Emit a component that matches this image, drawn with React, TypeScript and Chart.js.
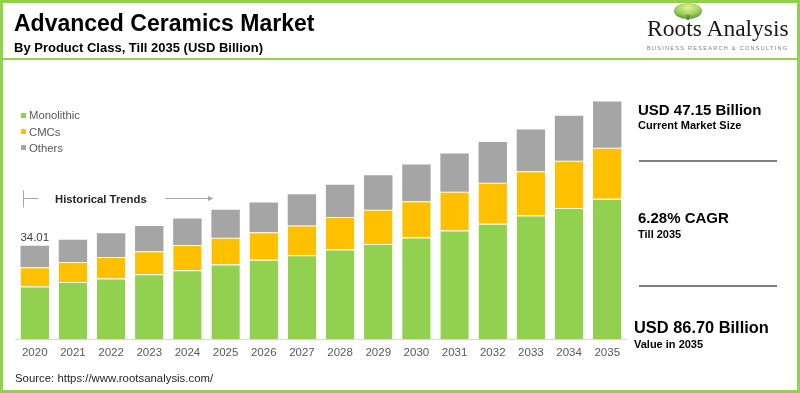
import React, { useEffect, useRef } from "react";
import { Chart, registerables } from "chart.js";

Chart.register(...registerables);

const years = ["2020", "2021", "2022", "2023", "2024", "2025", "2026", "2027", "2028", "2029", "2030", "2031", "2032", "2033", "2034", "2035"];
const monolithic = [19.2, 20.8, 22.1, 23.6, 25.1, 27.2, 28.9, 30.6, 32.7, 34.7, 37.0, 39.6, 42.1, 45.1, 47.8, 51.2];
const cmcs = [7.0, 7.3, 7.8, 8.4, 9.2, 9.75, 10.1, 10.8, 11.8, 12.5, 13.3, 14.1, 14.9, 16.1, 17.3, 18.6];
const others = [7.81, 8.1, 8.7, 9.2, 9.7, 10.2, 10.8, 11.4, 11.8, 12.6, 13.4, 14.0, 14.9, 15.3, 16.4, 16.9];
const seriesNames = ["Monolithic", "CMCs", "Others"];
const firstLabel = "34.01";

const GREEN = "#92D050";
const YELLOW = "#FFC000";
const GRAY = "#A5A5A5";
const FONT = "'Liberation Sans', Arial, sans-serif";

const labelPlugin = {
  id: "firstLabel",
  afterDatasetsDraw(chart: any) {
    const meta = chart.getDatasetMeta(2);
    const el = meta.data[0];
    if (!el) return;
    const ctx = chart.ctx;
    ctx.save();
    ctx.font = `11.5px ${FONT}`;
    ctx.fillStyle = "#404040";
    ctx.textAlign = "center";
    ctx.textBaseline = "middle";
    ctx.fillText(firstLabel, el.x, el.y - 7.5);
    ctx.restore();
  },
};

function abs(extra: React.CSSProperties): React.CSSProperties {
  return { position: "absolute", whiteSpace: "nowrap", fontFamily: FONT, ...extra };
}

export default function App() {
  const ref = useRef<HTMLCanvasElement | null>(null);

  useEffect(() => {
    if (!ref.current) return;
    const sep = { top: 1, right: 0, bottom: 0, left: 0 };
    const chart = new Chart(ref.current, {
      type: "bar",
      data: {
        labels: years,
        datasets: [
          { label: seriesNames[0], data: monolithic, backgroundColor: GREEN, borderWidth: sep, borderColor: "rgba(255,250,220,0.9)", borderSkipped: false as any },
          { label: seriesNames[1], data: cmcs, backgroundColor: YELLOW, borderWidth: sep, borderColor: "rgba(255,250,220,0.9)", borderSkipped: false as any },
          { label: seriesNames[2], data: others, backgroundColor: GRAY, borderWidth: 0 },
        ],
      },
      options: {
        responsive: false,
        animation: false,
        devicePixelRatio: 1,
        layout: { padding: 0 },
        plugins: { legend: { display: false }, tooltip: { enabled: false } },
        datasets: { bar: { categoryPercentage: 1, barPercentage: 0.745 } },
        scales: {
          x: {
            stacked: true,
            grid: { display: false, drawTicks: false },
            border: { display: true, color: "#d9d9d9", width: 1 },
            ticks: { color: "#595959", font: { family: FONT, size: 11.5 }, padding: 7, maxRotation: 0, autoSkip: false },
            afterFit(scale: any) {
              scale.height = 26;
            },
          },
          y: { stacked: true, display: false, min: 0, max: 100 },
        },
      },
      plugins: [labelPlugin],
    } as any);
    return () => chart.destroy();
  }, []);

  const legendItems = [
    { name: seriesNames[0], color: GREEN, y: 115 },
    { name: seriesNames[1], color: YELLOW, y: 131.7 },
    { name: seriesNames[2], color: GRAY, y: 147.7 },
  ];

  return (
    <div style={{ position: "absolute", left: 0, top: 0, width: 800, height: 393, background: "#fff", overflow: "hidden" }}>
      <canvas ref={ref} width={612} height={300} style={{ position: "absolute", left: 15, top: 65, width: 612, height: 300 }} />

      {/* frame */}
      <div style={{ position: "absolute", left: 0, top: 0, width: 800, height: 393, boxSizing: "border-box", border: `3px solid ${GREEN}`, pointerEvents: "none" }} />
      <div style={{ position: "absolute", left: 3, top: 58, width: 794, height: 2, background: GREEN }} />

      {/* titles */}
      <div style={abs({ left: 14, top: 10.3, fontSize: 23, lineHeight: "26px", fontWeight: 700, color: "#000" })}>Advanced Ceramics Market</div>
      <div style={abs({ left: 14, top: 40, fontSize: 13, lineHeight: "16px", fontWeight: 700, color: "#000" })}>By Product Class, Till 2035 (USD Billion)</div>

      {/* logo */}
      <svg style={{ position: "absolute", left: 0, top: 0 }} width={800} height={393}>
        <defs>
          <radialGradient id="crown" cx="50%" cy="30%" r="70%">
            <stop offset="0%" stopColor="#e8f0a0" />
            <stop offset="60%" stopColor="#9fcf5a" />
            <stop offset="100%" stopColor="#4f9a3a" />
          </radialGradient>
        </defs>
        <ellipse cx={688} cy={11} rx={14} ry={8} fill="url(#crown)" />
        <rect x={686.5} y={15} width={3} height={5} fill="#6a8a3a" />
        <line x1={23.5} y1={190.5} x2={23.5} y2={207.5} stroke="#a6a6a6" strokeWidth={1} />
        <line x1={23.5} y1={198.5} x2={38} y2={198.5} stroke="#a6a6a6" strokeWidth={1} />
        <line x1={165} y1={198.5} x2={212} y2={198.5} stroke="#a6a6a6" strokeWidth={1} />
        <path d="M208,196 L213.5,198.5 L208,201 Z" fill="#a6a6a6" />
      </svg>
      <div style={{ position: "absolute", left: 647, top: 13.7, fontFamily: "'Liberation Serif', 'Times New Roman', serif", fontSize: 23.5, lineHeight: "28px", color: "#1a1a1a", whiteSpace: "nowrap" }}>Roots Analysis</div>
      <div style={abs({ left: 647, top: 44.7, fontSize: 5.5, lineHeight: "6px", letterSpacing: "1.3px", color: "#808080" })}>BUSINESS RESEARCH &amp; CONSULTING</div>

      {/* legend */}
      {legendItems.map((it) => (
        <React.Fragment key={it.name}>
          <div style={{ position: "absolute", left: 21, top: it.y - 2.5, width: 5, height: 5, background: it.color }} />
          <div style={abs({ left: 29, top: it.y - 7, fontSize: 11.3, lineHeight: "14px", color: "#595959" })}>{it.name}</div>
        </React.Fragment>
      ))}

      {/* historical trends */}
      <div style={abs({ left: 55, top: 192, fontSize: 11.3, lineHeight: "14px", fontWeight: 700, color: "#262626" })}>Historical Trends</div>

      {/* right panel */}
      <div style={abs({ left: 638, top: 101, fontSize: 15, lineHeight: "18px", fontWeight: 700, color: "#000" })}>USD 47.15 Billion</div>
      <div style={abs({ left: 638, top: 118.5, fontSize: 11, lineHeight: "13px", fontWeight: 700, color: "#000" })}>Current Market Size</div>
      <div style={{ position: "absolute", left: 639, top: 160, width: 138, height: 2, background: "#808080" }} />
      <div style={abs({ left: 638, top: 209, fontSize: 15, lineHeight: "18px", fontWeight: 700, color: "#000" })}>6.28% CAGR</div>
      <div style={abs({ left: 638, top: 227.5, fontSize: 11, lineHeight: "13px", fontWeight: 700, color: "#000" })}>Till 2035</div>
      <div style={{ position: "absolute", left: 639, top: 285, width: 138, height: 2, background: "#808080" }} />
      <div style={abs({ left: 634, top: 317, fontSize: 16.4, lineHeight: "20px", fontWeight: 700, color: "#000" })}>USD 86.70 Billion</div>
      <div style={abs({ left: 634, top: 337.5, fontSize: 11, lineHeight: "13px", fontWeight: 700, color: "#000" })}>Value in 2035</div>

      {/* source */}
      <div style={abs({ left: 15, top: 370.7, fontSize: 11.4, lineHeight: "14px", color: "#262626" })}>Source: https://www.rootsanalysis.com/</div>
    </div>
  );
}
